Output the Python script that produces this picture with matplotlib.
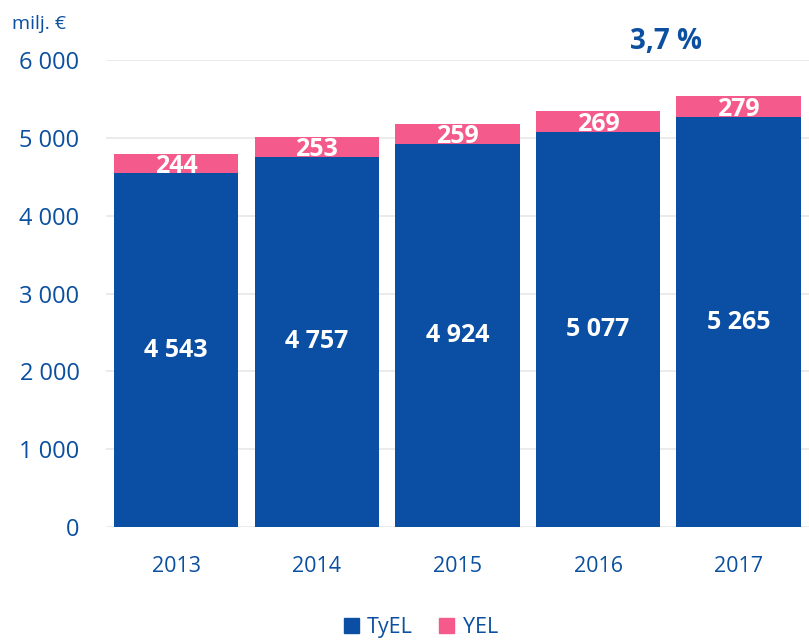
import matplotlib.pyplot as plt
import matplotlib.patches as patches

years = ['2013', '2014', '2015', '2016', '2017']
tyel = [4543, 4757, 4924, 5077, 5265]
yel = [244, 253, 259, 269, 279]
growth_label = '3,7 %'

blue = '#0a4fa3'
pink = '#f45b8c'
text_blue = '#0b4fa0'
grid_gray = '#e8e8e8'

plt.rcParams['font.family'] = ['Open Sans', 'DejaVu Sans']


def fmt(v):
    return f'{v:,}'.replace(',', ' ')


fig = plt.figure(figsize=(8.09, 6.42), dpi=100)
ax = fig.add_axes([0.131, 0.179, 0.869, 0.7275])

x = list(range(len(years)))
bw = 0.885
ax.bar(x, tyel, width=bw, color=blue, zorder=2)
ax.bar(x, yel, width=bw, bottom=tyel, color=pink, zorder=2)

for i in x:
    ax.text(i, tyel[i] / 2, fmt(tyel[i]), ha='center', va='center',
            color='white', fontsize=18, fontweight='bold', zorder=3)
    # YEL labels sit a little low, overlapping the blue segment
    ax.text(i, tyel[i] + yel[i] / 2 - 35, fmt(yel[i]), ha='center', va='center',
            color='white', fontsize=18, fontweight='bold', zorder=3)

ax.set_xlim(-0.5, len(years) - 0.5)
ax.set_ylim(0, 6000)
ax.set_yticks(range(0, 6001, 1000))
ax.set_yticklabels([fmt(v) for v in range(0, 6001, 1000)])
ax.set_xticks(x)
ax.set_xticklabels(years)
ax.tick_params(axis='y', length=0, pad=19, labelsize=17, labelcolor=text_blue)
ax.tick_params(axis='x', length=0, pad=21, labelsize=15.5, labelcolor=text_blue)
ax.grid(axis='y', color=grid_gray, lw=1.2, zorder=0)
ax.set_axisbelow(True)
for s in ax.spines.values():
    s.set_visible(False)

fig.text(0.015, 0.962, 'milj. €', color=text_blue, fontsize=14, ha='left', va='center')
ax.text(3.48, 6240, growth_label, color=text_blue, fontsize=20, fontweight='bold',
        ha='center', va='center', clip_on=False)

handles = [patches.Patch(color=blue, label='TyEL'), patches.Patch(color=pink, label='YEL')]
leg = fig.legend(handles=handles, loc='center', bbox_to_anchor=(0.52, 0.022), ncol=2,
                 frameon=False, fontsize=15.5, handlelength=0.7, handleheight=0.7,
                 handletextpad=0.4, columnspacing=1.2)
for t in leg.get_texts():
    t.set_color(text_blue)

plt.savefig('out.png', dpi=100, facecolor='white')
